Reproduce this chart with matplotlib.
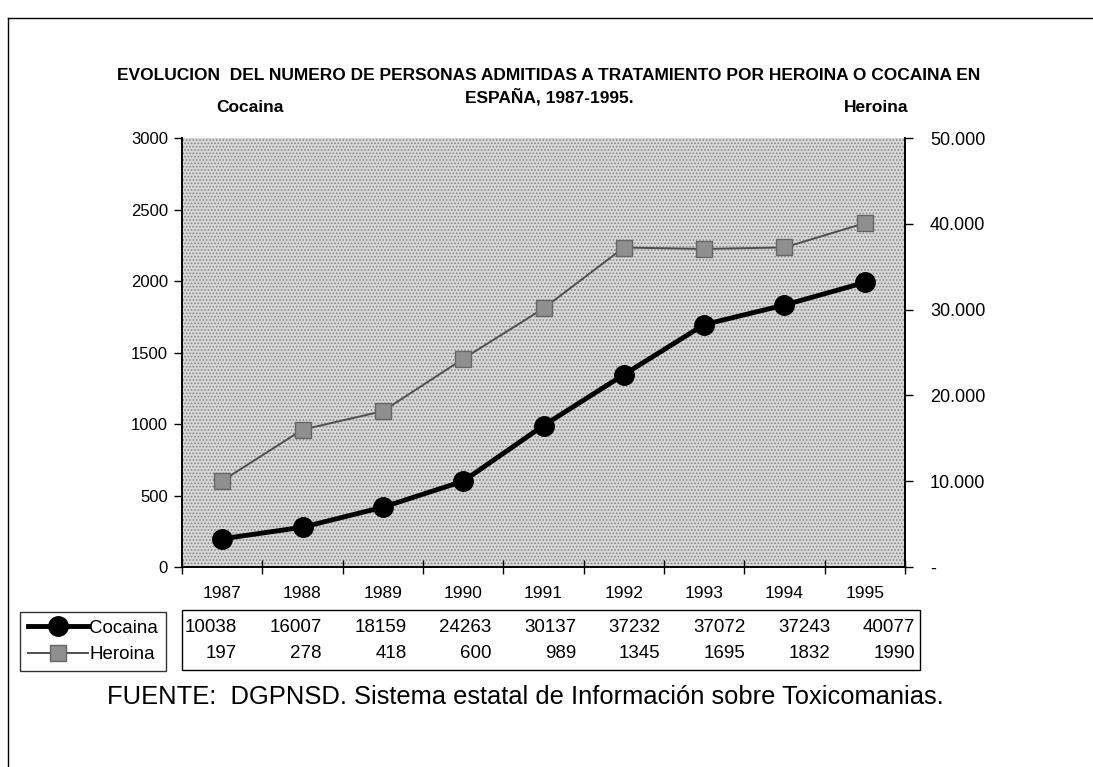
# coding:utf-8
# Evolucion de admisiones a tratamiento por heroina / cocaina, 1987-1995

import numpy as np
import matplotlib
matplotlib.use('Agg')
import matplotlib.pyplot as plt
from matplotlib.lines import Line2D
from matplotlib.patches import Rectangle

years = ['1987', '1988', '1989', '1990', '1991', '1992', '1993', '1994', '1995']
cocaina = [197, 278, 418, 600, 989, 1345, 1695, 1832, 1990]
heroina = [10038, 16007, 18159, 24263, 30137, 37232, 37072, 37243, 40077]
# filas de la tabla tal como aparecen en el original (etiquetas cruzadas)
tabla_fila1 = heroina
tabla_fila2 = cocaina
left_ticks = [0, 500, 1000, 1500, 2000, 2500, 3000]
right_ticks = [0, 10000, 20000, 30000, 40000, 50000]
right_labels = ['-', '10.000', '20.000', '30.000', '40.000', '50.000']

W, H = 1093, 767
def fx(x):
    return x / W
def fy(y):
    return 1 - y / H

plt.rcParams['font.family'] = ['Liberation Sans', 'DejaVu Sans']
plt.rcParams['hatch.linewidth'] = 0.8

fig = plt.figure(figsize=(W / 100, H / 100), dpi=100)
ax = fig.add_axes([fx(182), fy(567), fx(905) - fx(182), fy(138) - fy(567)])
ax2 = ax.twinx()

# ax2 (heroina) queda debajo con el fondo punteado, ax (cocaina) encima
ax.set_zorder(2)
ax2.set_zorder(1)
ax.patch.set_visible(False)
ax2.patch.set_facecolor('#d8d8d8')
ax2.add_patch(Rectangle((0, 0), 1, 1, transform=ax2.transAxes, facecolor='#d8d8d8',
                        hatch='.....', edgecolor='#858585', linewidth=0, zorder=0))

x = np.arange(len(years))
ax2.plot(x, heroina, color='#4f4f4f', lw=1.4, marker='s', markersize=11,
         markerfacecolor='#8f8f8f', markeredgecolor='#666666', zorder=3)
ax.plot(x, cocaina, color='black', lw=3.5, marker='o', markersize=14, zorder=4)

ax.set_xlim(-0.5, len(years) - 0.5)
ax.set_ylim(0, 3000)
ax2.set_ylim(0, 50000)
ax.set_yticks(left_ticks)
ax.set_yticklabels([str(t) for t in left_ticks], fontsize=12)
ax2.set_yticks(right_ticks)
ax2.set_yticklabels(right_labels, fontsize=13)
ax.set_xticks(x)
ax.set_xticklabels(years, fontsize=12.5)
ax.tick_params(axis='x', length=0, pad=14)
ax.set_xticks(np.arange(-0.5, len(years)), minor=True)
ax.tick_params(axis='x', which='minor', length=10, direction='inout', width=1)
ax.tick_params(axis='y', length=6, width=1, direction='out', pad=4)
ax2.tick_params(axis='y', length=6, width=1, direction='out', pad=12)
for a in (ax, ax2):
    a.spines['top'].set_visible(False)
    a.spines['left'].set_linewidth(1.2)
    a.spines['right'].set_linewidth(1.2)
    a.spines['bottom'].set_linewidth(1.2)

# titulos
fig.text(fx(549), fy(75), 'EVOLUCION  DEL NUMERO DE PERSONAS ADMITIDAS A TRATAMIENTO POR HEROINA O COCAINA EN',
         ha='center', va='center', fontsize=12.5, fontweight='bold')
fig.text(fx(549), fy(97), 'ESPAÑA, 1987-1995.', ha='center', va='center', fontsize=12.5, fontweight='bold')
fig.text(fx(250), fy(108), 'Cocaina', ha='center', va='center', fontsize=12.5, fontweight='bold')
fig.text(fx(908), fy(108), 'Heroina', ha='right', va='center', fontsize=12.5, fontweight='bold')

# tabla de datos
fig.add_artist(Rectangle((fx(182), fy(670)), fx(920) - fx(182), fy(610) - fy(670),
                         transform=fig.transFigure, facecolor='none', edgecolor='black', lw=1))
for i in range(len(years)):
    xr = fx(237 + i * 84.75)
    fig.text(xr, fy(627), str(tabla_fila1[i]), ha='right', va='center', fontsize=13.5)
    fig.text(xr, fy(653), str(tabla_fila2[i]), ha='right', va='center', fontsize=13.5)

# leyenda
handles = [Line2D([], [], color='black', lw=3.5, marker='o', markersize=14),
           Line2D([], [], color='#4f4f4f', lw=1.4, marker='s', markersize=11,
                  markerfacecolor='#8f8f8f', markeredgecolor='#666666')]
leg = fig.legend(handles, ['Cocaina', 'Heroina'], loc='upper left',
                 bbox_to_anchor=(fx(20), fy(612)), frameon=True, fancybox=False,
                 edgecolor='black', fontsize=13.5, handlelength=3.2, handletextpad=0.1,
                 borderpad=0.4, labelspacing=0.5, borderaxespad=0)
leg.get_frame().set_linewidth(1)

# fuente
fig.text(fx(107), fy(697), 'FUENTE:  DGPNSD. Sistema estatal de Información sobre Toxicomanias.',
         ha='left', va='center', fontsize=18.4)

# marco de la pagina
fig.add_artist(Line2D([fx(8), fx(8)], [fy(18), 0], transform=fig.transFigure, color='black', lw=1))
fig.add_artist(Line2D([fx(8), 1], [fy(18), fy(18)], transform=fig.transFigure, color='black', lw=1))

fig.savefig('out.png', dpi=100)
